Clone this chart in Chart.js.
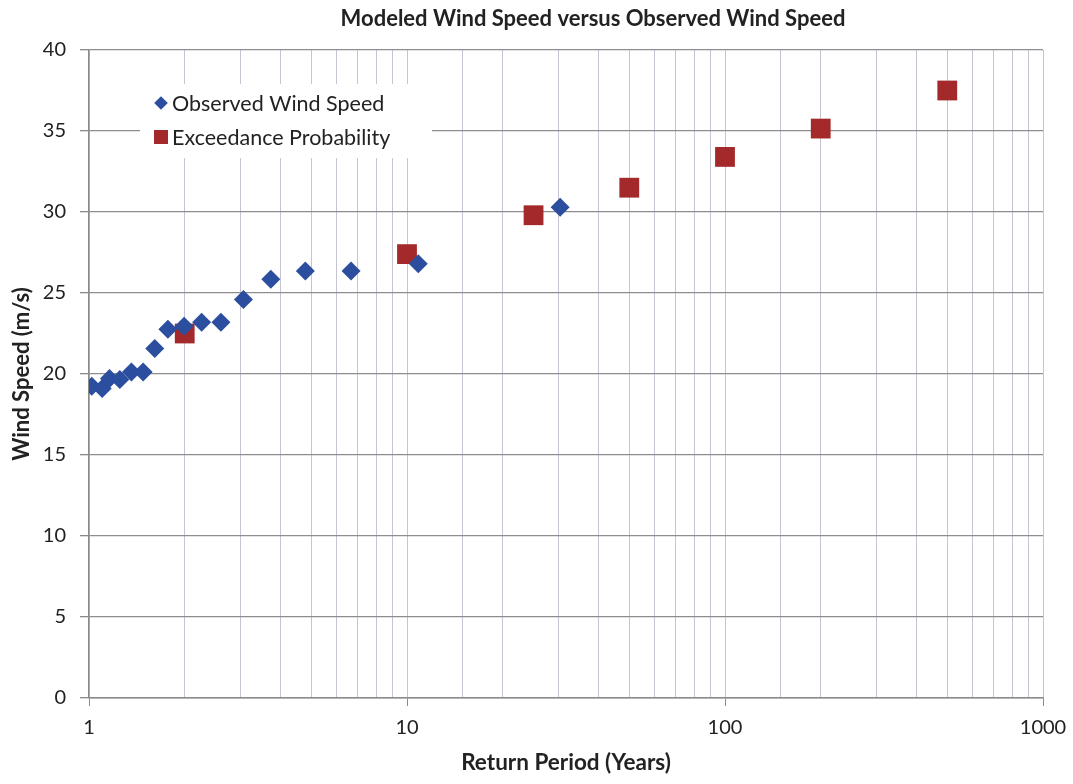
<!DOCTYPE html>
<html>
<head>
<meta charset="utf-8">
<title>Modeled Wind Speed versus Observed Wind Speed</title>
<script src="https://cdn.jsdelivr.net/npm/chart.js@4.4.1/dist/chart.umd.min.js"></script>
<style>
  html, body { margin: 0; padding: 0; background: #ffffff; }
  #wrap { width: 1073px; height: 784px; }
</style>
</head>
<body>
<div id="wrap"><canvas id="chart" width="1073" height="784"></canvas></div>
<script>
// Return periods (years) and annual-maximum wind speeds (m/s)
const chartTitle = 'Modeled Wind Speed versus Observed Wind Speed';
const observedLabel = 'Observed Wind Speed';
const modeledLabel = 'Exceedance Probability';

const observedYears = [1.02, 1.10, 1.16, 1.25, 1.36, 1.48, 1.61, 1.77, 1.99, 2.26, 2.60, 3.06, 3.73, 4.79, 6.67, 10.85, 30.3];
const observedSpeed = [19.25, 19.1, 19.72, 19.66, 20.13, 20.13, 21.57, 22.76, 22.95, 23.2, 23.2, 24.6, 25.85, 26.36, 26.36, 26.8, 30.3];

const modeledYears = [2, 10, 25, 50, 100, 200, 500];
const modeledSpeed = [22.5, 27.4, 29.8, 31.5, 33.4, 35.15, 37.5];

const xTickLabels = [1, 10, 100, 1000];
const yTickStep = 5;

const toPoints = (xs, ys) => xs.map((x, i) => ({ x: x, y: ys[i] }));

const BLUE = '#2B4E9F';
const RED = '#A3292A';
const TEXT = '#222222';
const FONT = 'Lato, "Noto Sans", sans-serif';

const isLabelled = v => xTickLabels.some(t => Math.abs(t - v) < 1e-6 * t);

// Chart heading, drawn over the plot area
const titlePlugin = {
  id: 'centredTitle',
  afterDraw(chart) {
    const ctx = chart.ctx;
    ctx.save();
    ctx.fillStyle = TEXT;
    ctx.font = 'bold 22px ' + FONT;
    ctx.textAlign = 'center';
    ctx.textBaseline = 'alphabetic';
    ctx.fillText(chartTitle, 593, 26);
    ctx.restore();
  }
};

// Legend box sitting inside the plot area, top left
const insetLegend = {
  id: 'insetLegend',
  afterDatasetsDraw(chart) {
    const ctx = chart.ctx;
    const box = { left: 140, top: 84, right: 432, bottom: 158 };
    ctx.save();
    ctx.fillStyle = '#ffffff';
    ctx.fillRect(box.left, box.top, box.right - box.left, box.bottom - box.top);
    ctx.font = '21.5px ' + FONT;
    ctx.textBaseline = 'middle';
    ctx.textAlign = 'left';
    const rows = chart.data.datasets.map((ds, i) => ({
      label: ds.label, color: ds.backgroundColor, style: ds.pointStyle, y: 103 + i * 34
    }));
    rows.forEach(r => {
      const cx = 161;
      ctx.fillStyle = r.color;
      ctx.beginPath();
      if (r.style === 'rectRot') {
        const h = 6.8;
        ctx.moveTo(cx, r.y - h);
        ctx.lineTo(cx + h, r.y);
        ctx.lineTo(cx, r.y + h);
        ctx.lineTo(cx - h, r.y);
        ctx.closePath();
      } else {
        ctx.rect(cx - 7, r.y - 7, 14, 14);
      }
      ctx.fill();
      ctx.fillStyle = TEXT;
      ctx.fillText(r.label, 172, r.y + 1);
    });
    ctx.restore();
  }
};

new Chart(document.getElementById('chart'), {
  type: 'scatter',
  data: {
    datasets: [
      {
        label: observedLabel,
        data: toPoints(observedYears, observedSpeed),
        pointStyle: 'rectRot',
        pointRadius: 9.5,
        pointHoverRadius: 9.5,
        backgroundColor: BLUE,
        borderColor: BLUE,
        borderWidth: 0
      },
      {
        label: modeledLabel,
        data: toPoints(modeledYears, modeledSpeed),
        pointStyle: 'rect',
        pointRadius: 14,
        pointHoverRadius: 14,
        backgroundColor: RED,
        borderColor: RED,
        borderWidth: 0
      }
    ]
  },
  options: {
    responsive: false,
    animation: false,
    devicePixelRatio: 1,
    layout: { padding: { top: 50, right: 30, left: 0, bottom: 0 } },
    plugins: {
      legend: { display: false },
      title: { display: false },
      tooltip: { enabled: false }
    },
    scales: {
      x: {
        type: 'logarithmic',
        min: 1,
        max: 1000,
        afterFit(scale) {
          scale.height = 86;
          scale.paddingLeft = 0;
          scale.paddingRight = 0;
        },
        border: { color: '#8a8a8a', width: 1.5 },
        grid: {
          color: '#c4c4d2',
          lineWidth: 1,
          tickLength: 8,
          tickColor: ctx => (ctx.tick && isLabelled(ctx.tick.value)) ? '#8a8a8a' : 'rgba(0,0,0,0)'
        },
        ticks: {
          autoSkip: false,
          maxRotation: 0,
          padding: 10,
          color: TEXT,
          font: { family: FONT, size: 20 },
          callback: v => isLabelled(v) ? String(Math.round(v)) : ''
        },
        title: {
          display: true,
          text: 'Return Period (Years)',
          color: TEXT,
          font: { family: FONT, size: 22.5, weight: 'bold' },
          padding: { top: 0, bottom: 8 }
        }
      },
      y: {
        min: 0,
        max: 40,
        afterFit(scale) {
          scale.width = 89;
          scale.paddingTop = 0;
          scale.paddingBottom = 0;
        },
        border: { color: '#8a8a8a', width: 1.5 },
        grid: {
          color: '#8e8e8e',
          lineWidth: 1.3,
          tickLength: 9,
          tickColor: '#8a8a8a'
        },
        ticks: {
          stepSize: yTickStep,
          padding: 14,
          color: TEXT,
          font: { family: FONT, size: 20 }
        },
        title: {
          display: true,
          text: 'Wind Speed (m/s)',
          color: TEXT,
          font: { family: FONT, size: 22, weight: 'bold' },
          padding: { top: 9, bottom: 0 }
        }
      }
    }
  },
  plugins: [insetLegend, titlePlugin]
});
</script>
</body>
</html>
